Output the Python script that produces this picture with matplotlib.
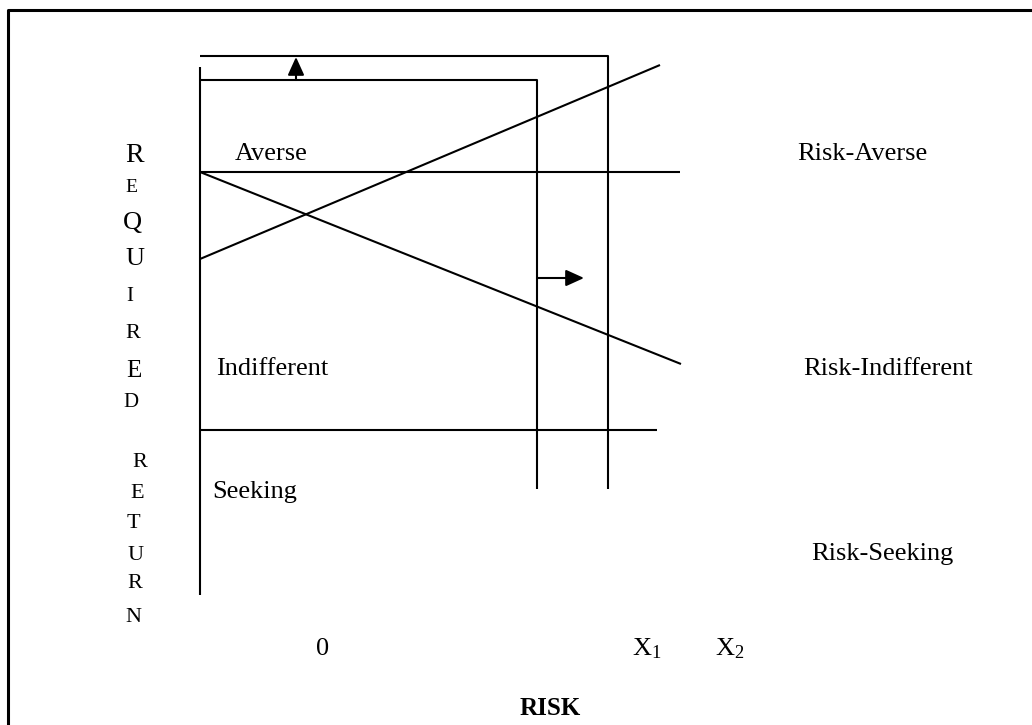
import matplotlib
matplotlib.use("Agg")
import matplotlib.pyplot as plt
from matplotlib import rc

rc('font', **{'family': 'serif', 'serif': ['Liberation Serif'], 'size': 19})
rc('mathtext', **{'fontset': 'custom', 'rm': 'Liberation Serif', 'default': 'regular'})

# diagram geometry, in picture units (x to the right, y downward)
frame_x = [8, 8, 1032]
frame_y = [725, 10, 10]

axis_x = [200, 200]
axis_y = [67, 595]

outer_box_x = [200, 608, 608]
outer_box_y = [56, 56, 489]
inner_box_x = [200, 537, 537]
inner_box_y = [80, 80, 489]

averse_line_x = [200, 680]
averse_line_y = [172, 172]
seeking_line_x = [200, 657]
seeking_line_y = [430, 430]

rising_x = [200, 660]
rising_y = [259, 65]
falling_x = [200, 681]
falling_y = [172, 364]

up_arrow = [(296, 80), (296, 57)]
right_arrow = [(537, 278), (584, 278)]

zone_labels = ["Averse", "Indifferent", "Seeking"]
zone_x = [235, 216, 212]
zone_y = [160, 375, 498]

side_labels = ["Risk-Averse", "Risk-Indifferent", "Risk-Seeking"]
side_x = [797, 803, 811]
side_y = [160, 375, 560]

tick_labels = ["0", "X$_1$", "X$_2$"]
tick_x = [316, 632, 715]
tick_y = 655

required_letters = list("REQUIRED")
required_x = [125, 125, 123, 125, 126, 125, 126, 123]
required_y = [162, 192, 229, 265, 301, 338, 377, 407]
required_size = [20, 14, 19, 19, 15, 16, 18, 15]

return_letters = list("RETURN")
return_x = [132, 130, 127, 127, 127, 125]
return_y = [467, 498, 528, 560, 588, 622]
return_size = [16, 16, 16, 16, 16, 16]

fig = plt.figure(figsize=(10.32, 7.25), dpi=100)
ax = fig.add_axes([0, 0, 1, 1])
ax.set_xlim(0, 1032)
ax.set_ylim(725, 0)
ax.axis('off')

lw = 1.5
ax.plot(frame_x, frame_y, color='black', linewidth=2.2, solid_capstyle='butt')
for xs, ys in [(axis_x, axis_y), (outer_box_x, outer_box_y), (inner_box_x, inner_box_y),
               (averse_line_x, averse_line_y), (seeking_line_x, seeking_line_y),
               (rising_x, rising_y), (falling_x, falling_y)]:
    ax.plot(xs, ys, color='black', linewidth=lw, solid_capstyle='butt')

for start, tip in [up_arrow, right_arrow]:
    ax.annotate('', xy=tip, xytext=start,
                arrowprops=dict(arrowstyle='-|>,head_length=0.55,head_width=0.25',
                                mutation_scale=20, color='black', linewidth=lw,
                                shrinkA=0, shrinkB=0))

for label, x, y in zip(zone_labels, zone_x, zone_y):
    ax.text(x, y, label, ha='left', va='baseline')
for label, x, y in zip(side_labels, side_x, side_y):
    ax.text(x, y, label, ha='left', va='baseline')
for label, x in zip(tick_labels, tick_x):
    ax.text(x, tick_y, label, ha='left', va='baseline')

for ch, x, y, s in zip(required_letters, required_x, required_y, required_size):
    ax.text(x, y, ch, ha='left', va='baseline', fontsize=s)
for ch, x, y, s in zip(return_letters, return_x, return_y, return_size):
    ax.text(x, y, ch, ha='left', va='baseline', fontsize=s)

ax.text(550, 715, "RISK", ha='center', va='baseline', fontsize=18, fontweight='bold')

plt.savefig("out.png", dpi=100)
